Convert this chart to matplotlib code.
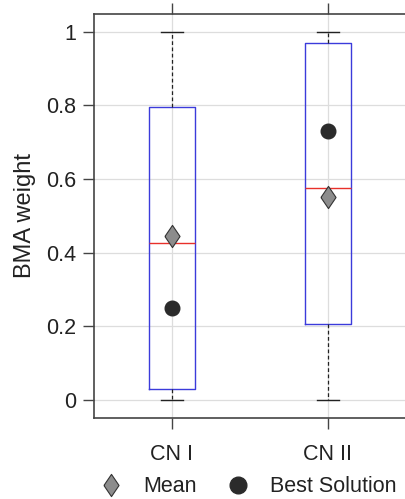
import matplotlib.pyplot as plt
from matplotlib.lines import Line2D

plt.rcParams['font.family'] = ['Liberation Sans', 'DejaVu Sans']

# BMA weight summaries per model
labels = ['CN I', 'CN II']
q1 = [0.03, 0.205]
med = [0.425, 0.575]
q3 = [0.797, 0.97]
wlo = [0.0, 0.0]
whi = [1.0, 1.0]
mean_w = [0.445, 0.55]
best_w = [0.25, 0.73]

stats = []
for i in range(len(labels)):
    stats.append({'label': labels[i], 'q1': q1[i], 'med': med[i], 'q3': q3[i],
                  'whislo': wlo[i], 'whishi': whi[i], 'fliers': []})

fig = plt.figure(figsize=(4.06, 4.99), dpi=100)
ax = fig.add_axes([94/406, 1-418/499, 1-94/406, (418-13.5)/499])

pos = [1, 2]
ax.grid(True, color='#dddddd', linewidth=0.9, zorder=0)
ax.set_axisbelow(True)
ax.bxp(stats, positions=pos, widths=0.3, showfliers=False,
       boxprops=dict(color='#3b3bdb', linewidth=1.0),
       medianprops=dict(color='#e8302a', linewidth=1.0),
       whiskerprops=dict(color='#222222', linestyle=(0, (3, 2)), linewidth=0.9),
       capprops=dict(color='#222222', linewidth=1.0), capwidths=0.14)

diamond = [(-0.68, 0), (0, 1), (0.68, 0), (0, -1), (-0.68, 0)]
ax.plot(pos, mean_w, linestyle='none', marker=diamond, markersize=16,
        markerfacecolor='#8c8c8c', markeredgecolor='#333333', markeredgewidth=0.8, zorder=5)
ax.plot(pos, best_w, linestyle='none', marker='o', markersize=10.5,
        markerfacecolor='#2b2b2b', markeredgecolor='#2b2b2b', zorder=5)

ax.set_xlim(0.5, 2.5)
ax.set_ylim(-0.05, 1.05)
ax.set_yticks([0, 0.2, 0.4, 0.6, 0.8, 1.0])
ax.set_yticklabels(['0', '0.2', '0.4', '0.6', '0.8', '1'])
ax.set_xticks(pos)
ax.set_xticklabels(labels)
ax.tick_params(axis='both', direction='out', length=8, width=1.0, color='#444444',
               labelsize=15.5, labelcolor='#222222', pad=5)
ax.tick_params(axis='x', top=True, pad=11)
ax.set_ylabel('BMA weight', fontsize=17, color='#222222', labelpad=7)

for s in ['left', 'top', 'bottom']:
    ax.spines[s].set_color('#444444')
    ax.spines[s].set_linewidth(1.2)
ax.spines['right'].set_visible(False)

handles = [
    Line2D([], [], linestyle='none', marker=diamond, markersize=16,
           markerfacecolor='#8c8c8c', markeredgecolor='#333333', markeredgewidth=0.8),
    Line2D([], [], linestyle='none', marker='o', markersize=12,
           markerfacecolor='#2b2b2b', markeredgecolor='#2b2b2b'),
]
fig.legend(handles, ['Mean', 'Best Solution'], loc='lower center', ncol=2,
           bbox_to_anchor=(0.61, -0.035), frameon=False, fontsize=15.5,
           handlelength=1.2, handletextpad=0.9, columnspacing=1.3, labelcolor='#222222')

fig.savefig('out.png', dpi=100)
